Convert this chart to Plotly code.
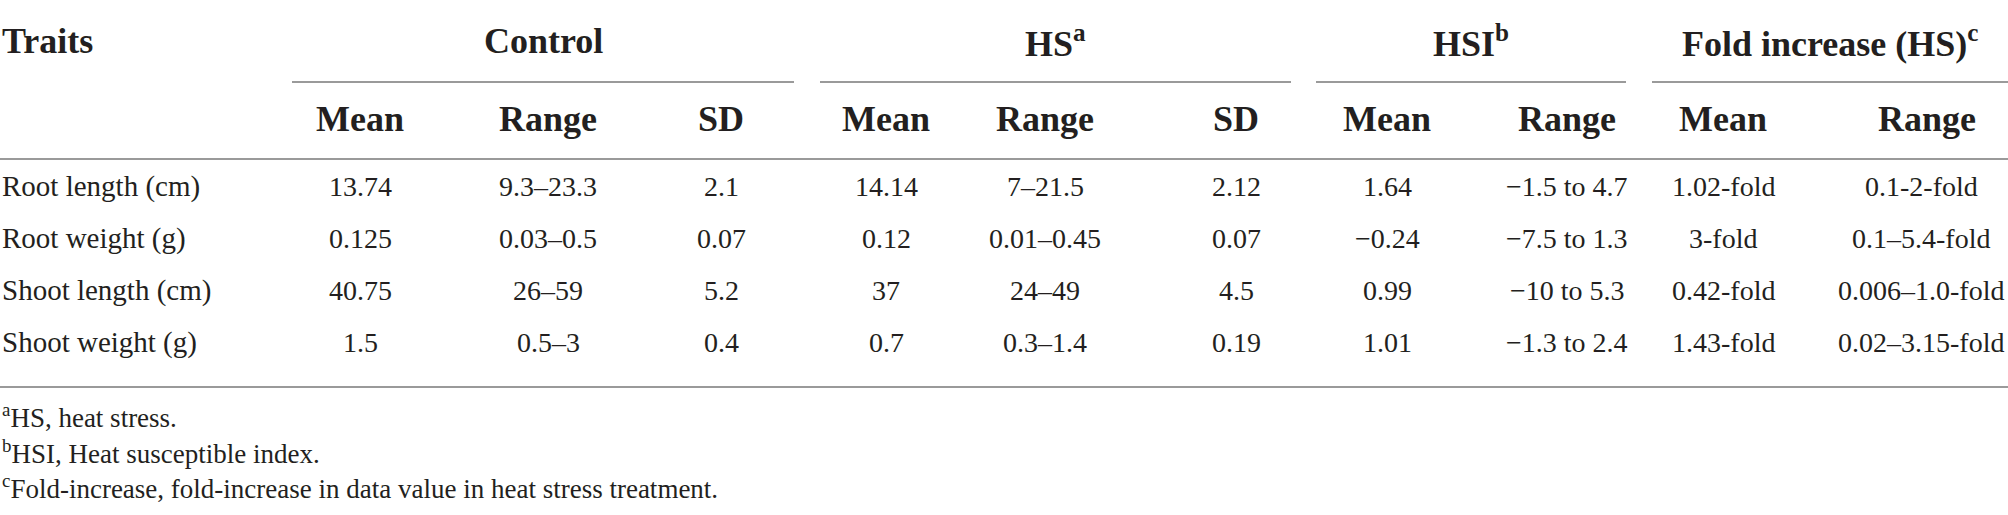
import plotly.graph_objects as go

# table content
traits = ["Root length (cm)", "Root weight (g)", "Shoot length (cm)", "Shoot weight (g)"]
groups = ["Control", "HS<sup>a</sup>", "HSI<sup>b</sup>", "Fold increase (HS)<sup>c</sup>"]
sub_headers = ["Mean", "Range", "SD", "Mean", "Range", "SD", "Mean", "Range", "Mean", "Range"]

control_mean = ["13.74", "0.125", "40.75", "1.5"]
control_range = ["9.3–23.3", "0.03–0.5", "26–59", "0.5–3"]
control_sd = ["2.1", "0.07", "5.2", "0.4"]
hs_mean = ["14.14", "0.12", "37", "0.7"]
hs_range = ["7–21.5", "0.01–0.45", "24–49", "0.3–1.4"]
hs_sd = ["2.12", "0.07", "4.5", "0.19"]
hsi_mean = ["1.64", "−0.24", "0.99", "1.01"]
hsi_range = ["−1.5 to 4.7", "−7.5 to 1.3", "−10 to 5.3", "−1.3 to 2.4"]
fold_mean = ["1.02-fold", "3-fold", "0.42-fold", "1.43-fold"]
fold_range = ["0.1-2-fold", "0.1–5.4-fold", "0.006–1.0-fold", "0.02–3.15-fold"]

footnotes = [
    "<sup>a</sup>HS, heat stress.",
    "<sup>b</sup>HSI, Heat susceptible index.",
    "<sup>c</sup>Fold-increase, fold-increase in data value in heat stress treatment.",
]

columns = [control_mean, control_range, control_sd, hs_mean, hs_range, hs_sd,
           hsi_mean, hsi_range, fold_mean, fold_range]

# layout (pixel coordinates of the 2008x515 page)
W, H = 2008, 515
col_x = [360, 548, 721, 886, 1045, 1236, 1387, 1567, 1723, 1927]
cell_x = col_x[:-1] + [1921]   # last column pulled in a little so long ranges fit
group_spans = [(292, 794), (820, 1291), (1316, 1626), (1652, 2008)]
row_y = [186, 238, 290, 342]
foot_y = [416, 452, 487]
ink = "#231f20"
rule = "#9a9a9a"
font = "Liberation Serif"

fig = go.Figure()
fig.add_trace(go.Scatter(x=[0, W], y=[0, H], mode="markers",
                         marker=dict(opacity=0), hoverinfo="skip", showlegend=False))

def label(x, y, text, size=28, bold=False, anchor="center"):
    if bold:
        text = "<b>" + text + "</b>"
    fig.add_annotation(x=x, y=y, xref="x", yref="y", text=text, showarrow=False,
                       xanchor=anchor, yanchor="middle",
                       font=dict(family=font, size=size, color=ink))

# header
label(0, 41, "Traits", size=36, bold=True, anchor="left")
for g, (x0, x1) in zip(groups, group_spans):
    label((x0 + x1) / 2, 41, g, size=36, bold=True)
    fig.add_shape(type="line", x0=x0, x1=x1, y0=82, y1=82, xref="x", yref="y",
                  line=dict(color=rule, width=2))
for h, x in zip(sub_headers, col_x):
    label(x, 119, h, size=36, bold=True)
fig.add_shape(type="line", x0=0, x1=W, y0=159, y1=159, xref="x", yref="y",
              line=dict(color=rule, width=2))

# body
for i, t in enumerate(traits):
    label(0, row_y[i], t, size=29, anchor="left")
    for col, x in zip(columns, cell_x):
        label(x, row_y[i], col[i])
fig.add_shape(type="line", x0=0, x1=W, y0=387, y1=387, xref="x", yref="y",
              line=dict(color=rule, width=2))

# footnotes
for f, y in zip(footnotes, foot_y):
    label(0, y, f, size=27, anchor="left")

fig.update_layout(
    width=W, height=H,
    margin=dict(l=0, r=0, t=0, b=0),
    paper_bgcolor="white", plot_bgcolor="white",
    xaxis=dict(range=[0, W], visible=False, fixedrange=True),
    yaxis=dict(range=[H, 0], visible=False, fixedrange=True),
    showlegend=False,
)

fig.write_html("out.html", config={"displayModeBar": False},
               post_script="document.body.style.margin='0';")
